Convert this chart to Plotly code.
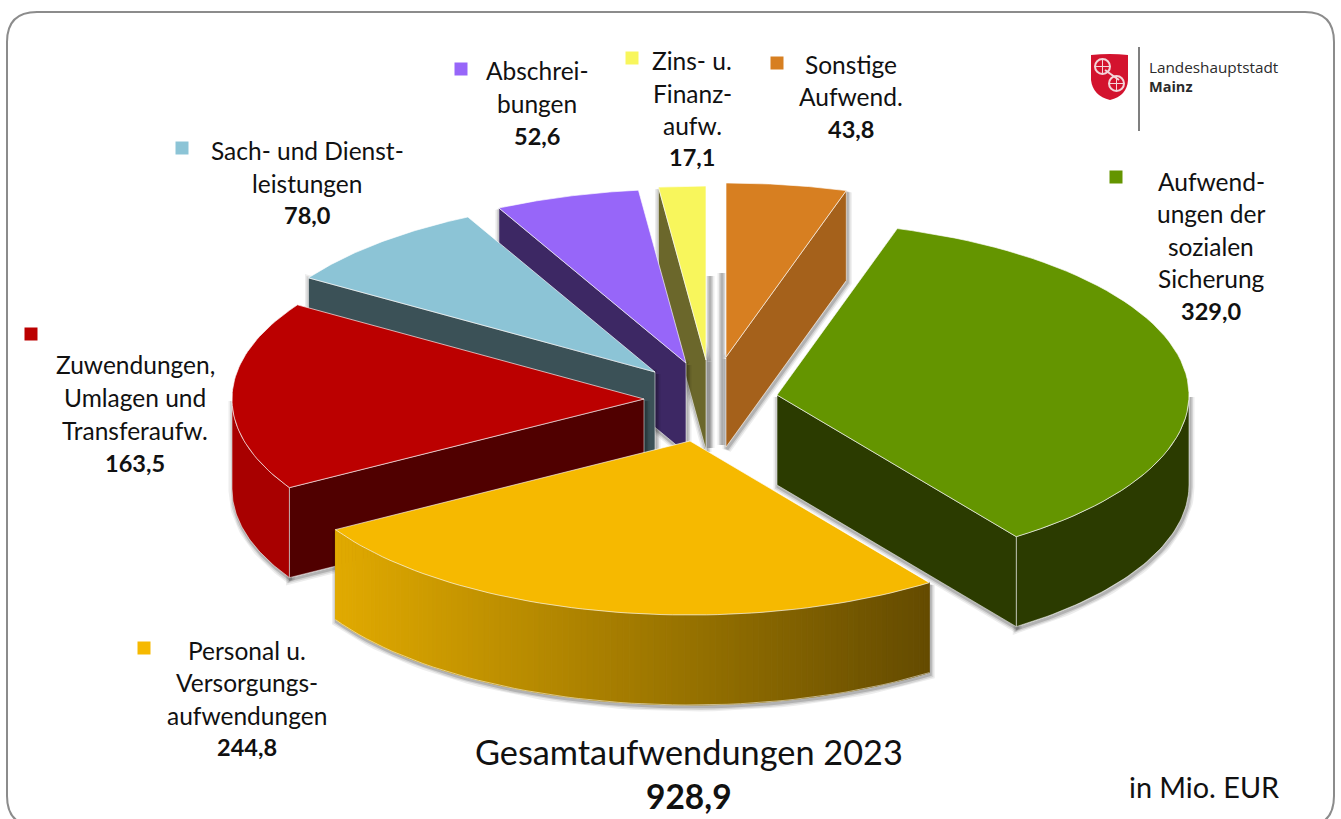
import math
import plotly.graph_objects as go

# ---- data ----
categories = ["Sonstige Aufwend.", "Aufwendungen der sozialen Sicherung",
              "Personal u. Versorgungsaufwendungen", "Zuwendungen, Umlagen und Transferaufw.",
              "Sach- und Dienstleistungen", "Abschreibungen", "Zins- u. Finanzaufw."]
values = [43.8, 329.0, 244.8, 163.5, 78.0, 52.6, 17.1]
total_value = 928.9

# ---- styles ----
top_colors = ["#D77F21", "#649500", "#F6B900", "#BB0000", "#8CC4D6", "#9766F9", "#F8F65C"]
cut_colors = ["#A5611B", "#2B3B00", "#8a6800", "#500000", "#3B5157", "#3D2864", "#6B672B"]
rim_colors = ["#A5611B", "#2B3B00", None, "#A80000", "#3B5157", "#3D2864", "#6B672B"]
apex_x = [726, 777, 690, 644, 655, 686, 706]
apex_y = [357, 395, 441, 399, 372, 363, 360]
RX, RY, DEPTH = 412, 174, 90
EDGE = "rgba(255,255,255,0.65)"

label_lines = [
    [("Sonstige", 851, 64), ("Aufwend.", 851, 96)],
    [("Aufwend-", 1211, 181), ("ungen der", 1211, 213), ("sozialen", 1211, 246), ("Sicherung", 1211, 278)],
    [("Personal u.", 247, 650), ("Versorgungs-", 247, 682), ("aufwendungen", 247, 715)],
    [("Zuwendungen,", 135, 364), ("Umlagen und", 135, 397), ("Transferaufw.", 135, 430)],
    [("Sach- und Dienst-", 307, 150), ("leistungen", 307, 183)],
    [("Abschrei-", 537, 70), ("bungen", 537, 103)],
    [("Zins- u.", 692, 60), ("Finanz-", 692, 93), ("aufw.", 692, 125)],
]
value_pos = [(851, 129), (1211, 311), (247, 747), (135, 463), (307, 215), (537, 136), (692, 157)]
marker_x = [777, 1116, 144, 31, 182, 461, 632]
marker_y = [63, 177, 648, 334, 148, 69, 58]

FONT = "Lato, Carlito, Calibri, sans-serif"
fig = go.Figure()


def rim(ax, ay, t0, t1, n):
    pts = []
    for i in range(n + 1):
        t = math.radians(t0 + (t1 - t0) * i / n)
        pts.append((ax + RX * math.sin(t), ay - RY * math.cos(t)))
    return pts


def poly(pts, fill, line=None, width=0):
    xs = [p[0] for p in pts] + [pts[0][0]]
    ys = [p[1] for p in pts] + [pts[0][1]]
    fig.add_trace(go.Scatter(x=xs, y=ys, mode="lines", fill="toself", fillcolor=fill,
                             line=dict(color=line or fill, width=width),
                             hoverinfo="skip", showlegend=False))


def halo(pts, closed=True, dx=1, dy=2):
    xs = [p[0] for p in pts] + ([pts[0][0]] if closed else [])
    ys = [p[1] for p in pts] + ([pts[0][1]] if closed else [])
    for w, a in ((9, 0.07), (6, 0.10), (3, 0.16)):
        fig.add_trace(go.Scatter(x=[x + dx for x in xs], y=[y + dy for y in ys], mode="lines",
                                 line=dict(color=f"rgba(0,0,0,{a})", width=w),
                                 hoverinfo="skip", showlegend=False))


def down(pts):
    return [(x, y + DEPTH) for x, y in pts]


# painter's order: far slices first, near ones last
order = [0, 6, 5, 4, 3, 1, 2]
start = []
acc = 0.0
for v in values:
    start.append(acc / sum(values) * 360)
    acc += v

for i in order:
    t0 = start[i]
    t1 = t0 + values[i] / sum(values) * 360
    ax, ay = apex_x[i], apex_y[i]
    arc = rim(ax, ay, t0, t1, 60)
    apex = (ax, ay)
    faces = []
    if math.sin(math.radians(t0)) < -1e-6:
        faces.append(([apex, arc[0], down([arc[0]])[0], (ax, ay + DEPTH)], cut_colors[i]))
    if math.sin(math.radians(t1)) > 1e-6:
        faces.append(([apex, arc[-1], down([arc[-1]])[0], (ax, ay + DEPTH)], cut_colors[i]))
    # faces seen edge-on still throw a thin shadow strip beside the slice
    if i == 0:
        halo([down([arc[0]])[0], (ax, ay + DEPTH - 2)], closed=False, dx=-4, dy=0)
    if i == 6:
        halo([down([arc[-1]])[0], (ax, ay + DEPTH - 2)], closed=False, dx=4, dy=0)
    # outer wall (front half of the rim only)
    a0, a1 = max(t0, 90), min(t1, 270)
    wall = None
    if a1 > a0:
        w = rim(ax, ay, a0, a1, 50)
        wall = w + down(w)[::-1]
    for f, _ in faces:
        halo(f)
    if wall:
        halo(wall)
    if i == 2:  # gold wall carries a horizontal gradient
        n = 110
        xl, xr = ax + RX * math.sin(math.radians(a1)), ax + RX * math.sin(math.radians(a0))
        for k in range(n):
            s0 = a1 - (a1 - a0) * k / n
            s1 = a1 - (a1 - a0) * (k + 1) / n
            seg = rim(ax, ay, s1, s0, 2)
            xm = sum(p[0] for p in seg) / len(seg)
            f = (xm - xl) / (xr - xl)
            col = f"rgb({round(225 - 125 * f)},{round(170 - 95 * f)},0)"
            poly(seg + down(seg)[::-1], col, col, 1)
    elif wall:
        poly(wall, rim_colors[i], EDGE, 0.8)
    for f, c in faces:
        poly(f, c, EDGE, 0.8)
    if i == 2 and wall:
        w = rim(ax, ay, a0, a1, 50)
        fig.add_trace(go.Scatter(x=[p[0] for p in down(w)], y=[p[1] for p in down(w)], mode="lines",
                                 line=dict(color=EDGE, width=0.8), hoverinfo="skip", showlegend=False))
    poly([apex] + arc, top_colors[i], EDGE, 1)

# legend-style squares
fig.add_trace(go.Scatter(x=marker_x, y=marker_y, mode="markers",
                         marker=dict(symbol="square", size=13, color=top_colors),
                         hoverinfo="skip", showlegend=False))

ann = []


def text(s, x, y, size=24.5, bold=False, anchor="center", color="#111111", family=FONT):
    ann.append(dict(text=f"<b>{s}</b>" if bold else s, x=x, y=y, xref="x", yref="y",
                    showarrow=False, xanchor=anchor, yanchor="middle",
                    font=dict(family=family, size=size, color=color)))


for i, lines in enumerate(label_lines):
    for s, x, y in lines:
        text(s, x, y)
    text(f"{values[i]:.1f}".replace(".", ","), value_pos[i][0], value_pos[i][1], size=23.5, bold=True)

text("Gesamtaufwendungen 2023", 689, 751, size=34.3)
text(f"{total_value:.1f}".replace(".", ","), 689, 796, size=33.5, bold=True)
text("in Mio. EUR", 1281, 787, size=28.8, anchor="right")
text("Landeshauptstadt", 1147, 67, size=15.3, anchor="left", color="#2b2b2b", family="Open Sans, sans-serif")
text("Mainz", 1147, 86, size=14.5, bold=True, anchor="left", color="#2b2b2b", family="Open Sans, sans-serif")

WHEEL = "#f3d6da"
shapes = [
    dict(type="path", layer="below", xref="x", yref="y",
         path="M 7 42 Q 7 12 37 12 L 1305 12 Q 1334 12 1334 42 L 1334 796 Q 1334 826 1305 826 L 37 826 Q 7 826 7 796 Z",
         line=dict(color="#8c8c8c", width=2), fillcolor="white"),
    dict(type="line", xref="x", yref="y", x0=1139, x1=1139, y0=47, y1=131, line=dict(color="#555555", width=1.5)),
    dict(type="path", xref="x", yref="y",
         path="M 1091 55 Q 1110 53 1128 55 L 1128 80 Q 1127 96 1110 100 Q 1093 96 1091 80 Z",
         fillcolor="#D3132E", line=dict(width=0)),
    dict(type="circle", xref="x", yref="y", x0=1095, x1=1110, y0=59, y1=74, line=dict(color=WHEEL, width=2)),
    dict(type="circle", xref="x", yref="y", x0=1109, x1=1124, y0=76, y1=91, line=dict(color=WHEEL, width=2)),
    dict(type="line", xref="x", yref="y", x0=1105, x1=1119, y0=70, y1=80, line=dict(color=WHEEL, width=2)),
    dict(type="line", xref="x", yref="y", x0=1102.5, x1=1102.5, y0=60, y1=73, line=dict(color=WHEEL, width=1)),
    dict(type="line", xref="x", yref="y", x0=1096, x1=1109, y0=66.5, y1=66.5, line=dict(color=WHEEL, width=1)),
    dict(type="line", xref="x", yref="y", x0=1116.5, x1=1116.5, y0=77, y1=90, line=dict(color=WHEEL, width=1)),
    dict(type="line", xref="x", yref="y", x0=1110, x1=1123, y0=83.5, y1=83.5, line=dict(color=WHEEL, width=1)),
]

fig.update_layout(
    width=1341, height=819, autosize=False,
    margin=dict(l=0, r=0, t=0, b=0),
    paper_bgcolor="white", plot_bgcolor="white",
    xaxis=dict(range=[0, 1341], visible=False, fixedrange=True),
    yaxis=dict(range=[819, 0], visible=False, fixedrange=True),
    annotations=ann, shapes=shapes, showlegend=False,
)
fig.write_html("out.html", config=dict(displayModeBar=False),
               post_script="document.body.style.margin='0';document.body.style.overflow='hidden';")
